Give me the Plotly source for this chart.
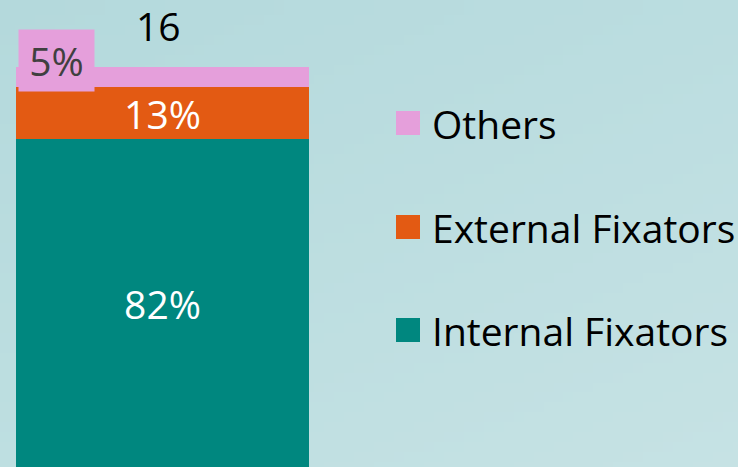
import base64
import struct
import zlib

import numpy as np
import plotly.graph_objects as go

categories = ["Internal Fixators", "External Fixators", "Others"]
shares = [82, 13, 5]
colors = ["#00877f", "#e35a13", "#e59fdb"]
total_label = "16"

W, H = 738, 467
FONT = "Open Sans"
FS = 39


def gradient_png(w, h, tl, tr, bl, br):
    """Small diagonal background gradient image as a data URI."""
    u = np.linspace(0, 1, w)[None, :, None]
    v = np.linspace(0, 1, h)[:, None, None]
    c = lambda s: np.array([int(s[i:i + 2], 16) for i in (1, 3, 5)], float)
    img = (c(tl) * (1 - u) * (1 - v) + c(tr) * u * (1 - v)
           + c(bl) * (1 - u) * v + c(br) * u * v)
    img = np.clip(img.round(), 0, 255).astype(np.uint8)
    raw = b"".join(b"\x00" + img[r].tobytes() for r in range(h))

    def chunk(t, d):
        return struct.pack(">I", len(d)) + t + d + struct.pack(">I", zlib.crc32(t + d) & 0xffffffff)

    png = (b"\x89PNG\r\n\x1a\n"
           + chunk(b"IHDR", struct.pack(">IIBBBBB", w, h, 8, 2, 0, 0, 0))
           + chunk(b"IDAT", zlib.compress(raw, 9))
           + chunk(b"IEND", b""))
    return "data:image/png;base64," + base64.b64encode(png).decode()


fig = go.Figure()
for cat, val, col in zip(categories, shares, colors):
    show_text = cat != "Others"
    fig.add_trace(go.Bar(
        x=[0], y=[val], name=cat, marker=dict(color=col, line=dict(width=0)),
        width=1,
        text=[f"{val}%"] if show_text else None,
        textposition="inside" if show_text else "none",
        insidetextanchor="middle",
        textfont=dict(color="white", size=FS, family=FONT),
        showlegend=False, hoverinfo="skip",
    ))

# label for the thin "Others" segment, boxed above the bar
others_val = shares[categories.index("Others")]
fig.add_annotation(
    x=-0.362, y=sum(shares) + 1.6, xref="x", yref="y",
    text=f"{others_val}%", showarrow=False,
    font=dict(size=FS, color="#404040", family=FONT),
    bgcolor=colors[categories.index("Others")], borderpad=2,
    width=71, height=57, align="center", valign="middle",
    xanchor="center", yanchor="middle",
)
# total label
fig.add_annotation(
    x=-0.015, y=sum(shares) + 10.3, xref="x", yref="y",
    text=total_label, showarrow=False,
    font=dict(size=FS, color="black", family=FONT),
    xanchor="center", yanchor="middle",
)

# legend (large squares), order top to bottom: Others, External, Internal
legend_y_px = [123, 227, 330]
for i, idx in enumerate([2, 1, 0]):
    yc = 1 - legend_y_px[i] / H
    half = 12 / H
    fig.add_shape(type="rect", xref="paper", yref="paper",
                  x0=396 / W, x1=420 / W, y0=yc - half, y1=yc + half,
                  fillcolor=colors[idx], line=dict(width=0))
    fig.add_annotation(x=430 / W, y=yc, xref="paper", yref="paper",
                       text=categories[idx], showarrow=False,
                       xanchor="left", yanchor="middle",
                       font=dict(size=FS, color="black", family=FONT))

fig.add_layout_image(
    source=gradient_png(74, 47, "#b4d9dc", "#bbdde0", "#bedfe1", "#c6e2e4"),
    xref="paper", yref="paper", x=0, y=1, sizex=1, sizey=1,
    xanchor="left", yanchor="top", sizing="stretch", layer="below",
)

fig.update_layout(
    width=W, height=H, barmode="stack",
    margin=dict(l=0, r=0, t=0, b=0),
    paper_bgcolor="#bcdde0", plot_bgcolor="rgba(0,0,0,0)",
    xaxis=dict(domain=[16 / W, 309 / W], range=[-0.5, 0.5], visible=False, fixedrange=True),
    yaxis=dict(domain=[0, 1], range=[0, H / 4], visible=False, fixedrange=True),
    uniformtext=dict(minsize=FS, mode="show"),
)

fig.write_html(
    "out.html",
    config={"displayModeBar": False},
    post_script="document.body.style.margin='0';document.body.style.overflow='hidden';",
)
